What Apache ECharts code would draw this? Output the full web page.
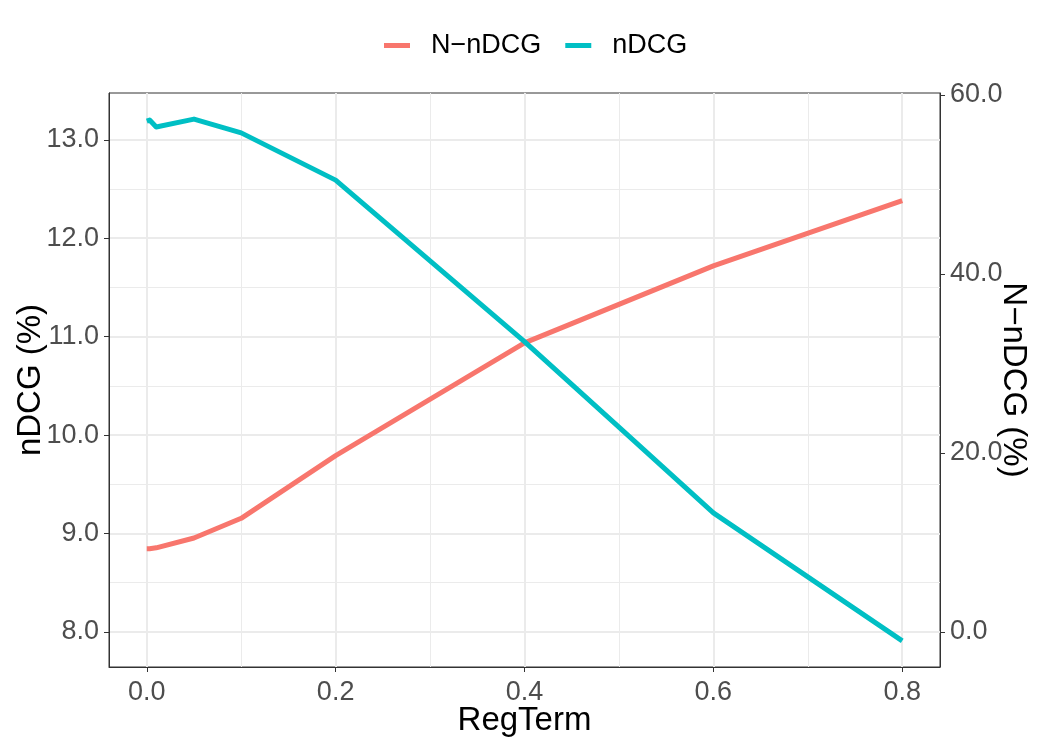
<!DOCTYPE html>
<html>
<head>
<meta charset="utf-8">
<title>RegTerm vs nDCG</title>
<script src="https://cdn.jsdelivr.net/npm/echarts@6/dist/echarts.min.js"></script>
<style>
  html, body { margin: 0; padding: 0; background: #fff; }
  #chart { width: 1050px; height: 750px; }
</style>
</head>
<body>
<div id="chart"></div>
<script>
// data
var regTerm = [0, 0.003, 0.01, 0.05, 0.1, 0.2, 0.4, 0.5, 0.6, 0.8]
var nDCG = [13.19, 13.20, 13.13, 13.21, 13.07, 12.59, 10.95, 10.08, 9.21, 7.91]
var nnDCG = [9.3, 9.3, 9.4, 10.5, 12.7, 19.7, 32.3, 36.6, 40.9, 48.2]

var xTicks = [0, 0.2, 0.4, 0.6, 0.8]
var xMinor = [0.1, 0.3, 0.5, 0.7]
var leftTicks = [8, 9, 10, 11, 12, 13]
var leftMinor = [8.5, 9.5, 10.5, 11.5, 12.5]
var rightTicks = [0, 20, 40, 60]

// secondary axis is a linear transform of the primary one
var leftMin = 7.644
var leftMax = 13.475
function toRight(v) { return (v - 8) * 11 }

var font = 'Liberation Sans, Arial, Helvetica, sans-serif'
var gridColor = '#ebebeb'
var dark = '#333333'
var labelColor = '#4d4d4d'

function pairs(ys) {
  return regTerm.map(function (x, i) { return [x, ys[i]] })
}

var chart = echarts.init(document.getElementById('chart'))

chart.setOption({
  backgroundColor: '#ffffff',
  animation: false,
  legend: {
    top: 27,
    left: 379,
    icon: 'rect',
    itemWidth: 26,
    itemHeight: 5,
    itemGap: 24,
    textStyle: {
      fontFamily: font,
      fontSize: 27,
      color: '#000',
      padding: [0, 0, 0, 16]
    },
    data: ['N\u2212nDCG', 'nDCG']
  },
  grid: {
    left: 109,
    right: 110,
    top: 93,
    bottom: 83,
    outerBoundsMode: 'none',
    containLabel: false,
    show: true,
    borderColor: dark,
    borderWidth: 1,
    backgroundColor: 'transparent'
  },
  xAxis: [{
    type: 'value',
    min: -0.04,
    max: 0.84,
    name: 'RegTerm',
    nameLocation: 'middle',
    nameGap: 37,
    nameMoveOverlap: false,
    nameTextStyle: { fontFamily: font, fontSize: 33, color: '#000' },
    axisLine: { show: true, onZero: false, lineStyle: { color: dark, width: 1 } },
    axisTick: { show: true, length: 5, lineStyle: { color: dark }, customValues: xTicks },
    axisLabel: {
      fontFamily: font, fontSize: 27, color: labelColor, margin: 12,
      customValues: xTicks,
      formatter: function (v) { return v.toFixed(1) }
    },
    splitLine: { show: true, lineStyle: { color: gridColor, width: 2 } }
  }, {
    type: 'value',
    min: -0.04,
    max: 0.84,
    position: 'bottom',
    axisLine: { show: false, onZero: false },
    axisTick: { show: false, customValues: xMinor },
    axisLabel: { show: false, customValues: xMinor },
    splitLine: { show: true, lineStyle: { color: gridColor, width: 1 } }
  }],
  yAxis: [{
    type: 'value',
    position: 'left',
    min: leftMin,
    max: leftMax,
    name: 'nDCG (%)',
    nameLocation: 'middle',
    nameGap: 62,
    nameMoveOverlap: false,
    nameTextStyle: { fontFamily: font, fontSize: 33, color: '#000' },
    axisLine: { show: true, onZero: false, lineStyle: { color: dark, width: 1 } },
    axisTick: { show: true, length: 5, lineStyle: { color: dark }, customValues: leftTicks },
    axisLabel: {
      fontFamily: font, fontSize: 27, color: labelColor, margin: 10,
      customValues: leftTicks,
      formatter: function (v) { return v.toFixed(1) }
    },
    splitLine: { show: true, lineStyle: { color: gridColor, width: 2 } }
  }, {
    type: 'value',
    position: 'right',
    min: toRight(leftMin),
    max: toRight(leftMax),
    name: 'N\u2212nDCG (%)',
    nameLocation: 'middle',
    nameGap: 57,
    nameMoveOverlap: false,
    nameRotate: -90,
    nameTextStyle: { fontFamily: font, fontSize: 33, color: '#000' },
    axisLine: { show: true, onZero: false, lineStyle: { color: dark, width: 1 } },
    axisTick: { show: true, length: 5, lineStyle: { color: dark }, customValues: rightTicks },
    axisLabel: {
      fontFamily: font, fontSize: 27, color: labelColor, margin: 10,
      customValues: rightTicks,
      formatter: function (v) { return v.toFixed(1) }
    },
    splitLine: { show: false }
  }, {
    type: 'value',
    position: 'left',
    min: leftMin,
    max: leftMax,
    axisLine: { show: false, onZero: false },
    axisTick: { show: false, customValues: leftMinor },
    axisLabel: { show: false, customValues: leftMinor },
    splitLine: { show: true, lineStyle: { color: gridColor, width: 1 } }
  }],
  series: [{
    name: 'N\u2212nDCG',
    type: 'line',
    yAxisIndex: 1,
    showSymbol: false,
    symbol: 'none',
    color: '#F8766D',
    lineStyle: { width: 5, join: 'round' },
    data: pairs(nnDCG)
  }, {
    name: 'nDCG',
    type: 'line',
    yAxisIndex: 0,
    showSymbol: false,
    symbol: 'none',
    color: '#00BFC4',
    lineStyle: { width: 5, join: 'round' },
    data: pairs(nDCG)
  }]
})
</script>
</body>
</html>
